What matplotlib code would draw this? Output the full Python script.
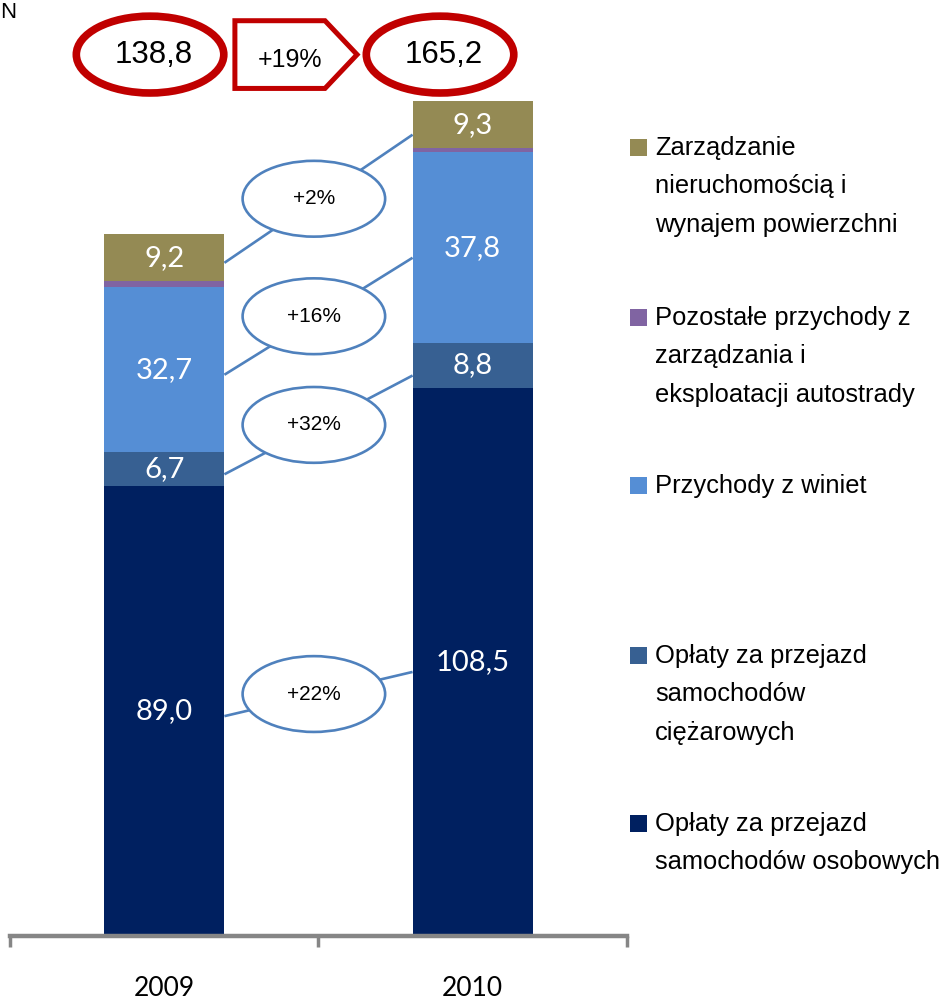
import matplotlib
matplotlib.use('Agg')
import numpy as np
import matplotlib.pyplot as plt
from matplotlib.patches import Ellipse, Polygon, Rectangle
from matplotlib import font_manager as fm

# dane (mln PLN)
years = ['2009', '2010']
osobowe = [89.0, 108.5]
ciezarowe = [6.7, 8.8]
winiety = [32.7, 37.8]
pozostale = [1.2, 0.8]
nieruchomosci = [9.2, 9.3]
totals = [138.8, 165.2]
total_growth = '+19%'
growth = ['+22%', '+32%', '+16%', None, '+2%']
legend_labels = ['Opłaty za przejazd\nsamochodów osobowych',
                 'Opłaty za przejazd\nsamochodów\nciężarowych',
                 'Przychody z winiet',
                 'Pozostałe przychody z\nzarządzania i\neksploatacji autostrady',
                 'Zarządzanie\nnieruchomością i\nwynajem powierzchni']
show_value = [True, True, True, False, True]

colors = ['#002060', '#376092', '#558ED5', '#8064A2', '#948A54']
series = [osobowe, ciezarowe, winiety, pozostale, nieruchomosci]

names = {f.name for f in fm.fontManager.ttflist}
if 'Liberation Sans Narrow' in names:
    narrow = ['Liberation Sans Narrow', 'DejaVu Sans']
    k = 1.18
else:
    narrow = ['Liberation Sans', 'DejaVu Sans']
    k = 1.0
num_font = ['Lato', 'DejaVu Sans']
blue = '#4F81BD'
red = '#C00000'

fig = plt.figure(figsize=(9.45, 10.01), dpi=100)
W, H = 945, 1001
ax = fig.add_axes([10 / W, 1 - 936 / H, 617 / W, 935 / H])
ax.set_xlim(-0.5, 1.5)
ax.set_ylim(0, 185)

x = np.arange(len(years))
w = 0.39
bottom = np.zeros(len(years))
mids = []
for vals, col, lab in zip(series, colors, legend_labels):
    vals = np.array(vals)
    ax.bar(x, vals, w, bottom=bottom, color=col, label=lab, zorder=2)
    mids.append(bottom + vals / 2)
    bottom = bottom + vals

# wartosci na slupkach
for vals, m, show in zip(series, mids, show_value):
    if not show:
        continue
    for i in range(len(years)):
        ax.text(x[i], m[i], f'{vals[i]:.1f}'.replace('.', ','), color='white',
                ha='center', va='center', fontsize=21, family=num_font, zorder=3)

# linie i elipsy z dynamika
for g, m in zip(growth, mids):
    if g is None:
        continue
    y0, y1 = m[0] - 1, m[1] - 2
    ax.plot([x[0] + w / 2, x[1] - w / 2], [y0, y1], color=blue, lw=1.9,
            zorder=4, solid_capstyle='butt')
    cx, cy = (x[0] + x[1]) / 2 - 0.015, (y0 + y1) / 2
    ax.add_patch(Ellipse((cx, cy), 0.462, 15.0, facecolor='white',
                         edgecolor=blue, lw=1.9, zorder=5))
    ax.text(cx, cy, g, ha='center', va='center', fontsize=15 * k,
            family=narrow, zorder=6)

# sumy na gorze
top_y = 174.4
tot_x = [x[0] - 0.046, x[1] - 0.106]
for tx, t in zip(tot_x, totals):
    ax.add_patch(Ellipse((tx, top_y), 0.478, 15.2, facecolor='white',
                         edgecolor=red, lw=5.5, zorder=5, clip_on=False))
    ax.text(tx + 0.012, top_y, f'{t:.1f}'.replace('.', ','), ha='center',
            va='center', fontsize=22.5 * k, family=narrow, zorder=6, clip_on=False)

arrow = Polygon([(0.229, top_y + 6.7), (0.521, top_y + 6.7), (0.625, top_y),
                 (0.521, top_y - 6.7), (0.229, top_y - 6.7)], closed=True,
                facecolor='white', edgecolor=red, lw=3.6, zorder=5,
                clip_on=False, joinstyle='miter')
ax.add_patch(arrow)
ax.text(0.408, top_y - 1.0, total_growth, ha='center', va='center',
        fontsize=18 * k, family=narrow, zorder=6, clip_on=False)

# os X
for s in ['top', 'right', 'left']:
    ax.spines[s].set_visible(False)
ax.spines['bottom'].set_color('#868686')
ax.spines['bottom'].set_linewidth(3.2)
ax.set_yticks([])
ax.set_xticks([-0.5, 0.5, 1.5])
ax.set_xticklabels([])
ax.tick_params(axis='x', which='major', length=8, width=2.5, color='#868686')
ax.set_xticks(x, minor=True)
ax.set_xticklabels(years, minor=True, fontsize=19, family=num_font)
ax.tick_params(axis='x', which='minor', length=0, pad=28.5)

# legenda (od gory)
leg_y = [147, 317, 485, 655, 823]
for (lab, col), yc in zip(list(zip(legend_labels, colors))[::-1], leg_y):
    fig.patches.append(Rectangle((630 / W, 1 - (yc + 8.5) / H), 17 / W, 17 / H,
                                 transform=fig.transFigure, facecolor=col,
                                 edgecolor='none'))
    fig.text(655 / W, 1 - (yc - 11) / H, lab, ha='left', va='top',
             fontsize=18.4 * k, family=narrow, linespacing=1.76)

fig.text(0.5 / W, 1 - 13 / H, 'N', ha='left', va='center',
         fontsize=16 * k, family=narrow)

fig.savefig('out.png', dpi=100)
